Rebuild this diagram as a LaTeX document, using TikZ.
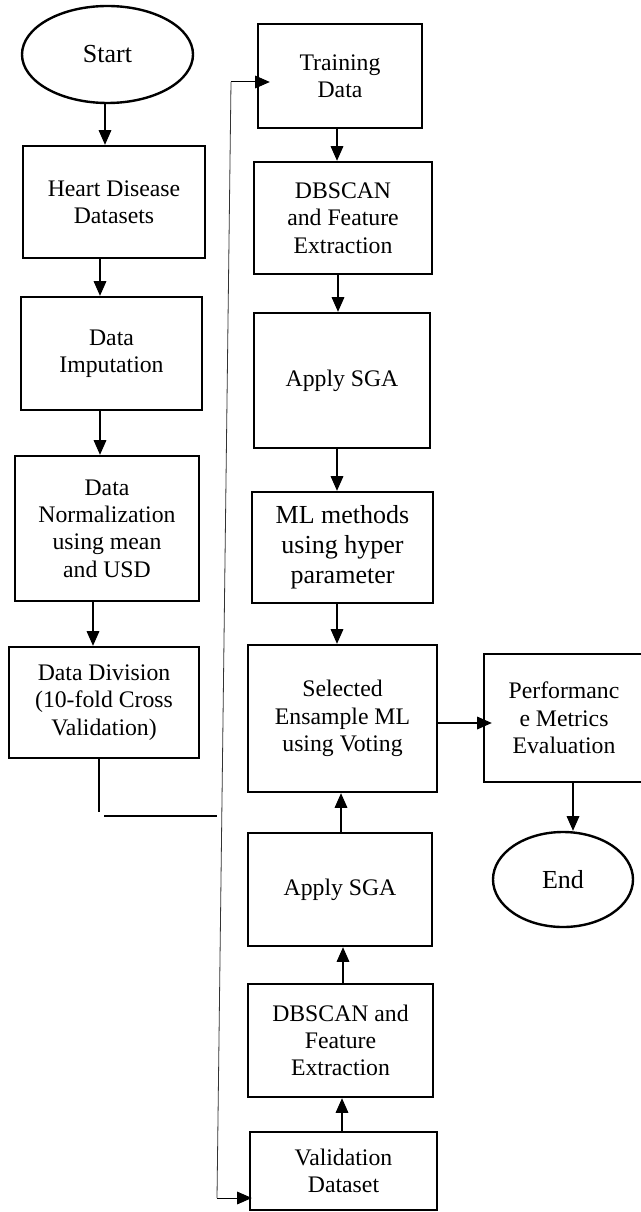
\documentclass[tikz,border=0pt]{standalone}
\usepackage{fontspec}
\setmainfont{Liberation Serif}
\usetikzlibrary{arrows.meta,shapes.geometric,calc}
\begin{document}
\begin{tikzpicture}[x=0.75pt,y=-0.75pt,
  box/.style={draw,line width=1.8pt,align=center,inner sep=0pt,
    font=\fontsize{17.8pt}{20.5pt}\selectfont},
  bigbox/.style={box,font=\fontsize{19.5pt}{22.5pt}\selectfont},
  oval/.style={box,ellipse,font=\fontsize{19.5pt}{22.5pt}\selectfont},
  arr/.style={line width=0.9pt,-{Triangle[length=11pt,width=9.5pt]}},
  feed/.style={line width=0.6pt,draw=black!80},
  thickline/.style={line width=1.6pt}]
\useasboundingbox (0,0) rectangle (640,1212);
% left column
\node[oval,minimum width=128.25pt,minimum height=72.75pt] (start) at (107.5,54.5) {Start};
\node[box,minimum width=136.5pt,minimum height=84pt] (hd) at (114,202) {Heart Disease\\Datasets};
\node[box,minimum width=135.75pt,minimum height=84.75pt] (imp) at (111.5,353.5) {Data\\Imputation};
\node[box,minimum width=138pt,minimum height=108.75pt] (norm) at (107,528.5) {Data\\Normalization\\using mean\\and USD};
\node[box,minimum width=142.5pt,minimum height=83.25pt] (div) at (104,702.5) {Data Division\\(10-fold Cross\\Validation)};
% middle column
\node[box,minimum width=123pt,minimum height=78pt] (train) at (340,76) {Training\\Data};
\node[box,minimum width=133.5pt,minimum height=84pt] (db1) at (343,218) {DBSCAN\\and Feature\\Extraction};
\node[box,minimum width=132pt,minimum height=101.25pt] (sga1) at (342,380.5) {Apply SGA};
\node[bigbox,minimum width=135.75pt,minimum height=83.25pt] (ml) at (342.5,547.5) {ML methods\\using hyper\\parameter};
\node[box,minimum width=141.75pt,minimum height=110.25pt] (sel) at (342.5,718.5) {Selected\\Ensample ML\\using Voting};
\node[box,minimum width=138pt,minimum height=84.75pt] (sga2) at (340,889.5) {Apply SGA};
\node[box,minimum width=138.75pt,minimum height=84.75pt] (db2) at (340.5,1040.5) {DBSCAN and\\Feature\\Extraction};
\node[box,minimum width=140.25pt,minimum height=58.5pt] (valid) at (343.5,1171) {Validation\\Dataset};
% right column
\node[box,minimum width=120pt,minimum height=96pt] (perf) at (564,718) {Performanc\\e Metrics\\Evaluation};
\node[oval,minimum width=105pt,minimum height=71.25pt] (end) at (563,879.5) {End};
% helper coordinates
\coordinate (c105) at (105,0);
\coordinate (c100) at (100,0);
\coordinate (c93) at (93,0);
\coordinate (c99) at (99,812);
\coordinate (h1) at (104,816);
\coordinate (h2) at (217,816);
\coordinate (tl) at (231,82);
\coordinate (bl) at (217,1198);
\coordinate (c337) at (337,0);
\coordinate (c338) at (338,0);
\coordinate (c341) at (341,0);
\coordinate (c342) at (342,0);
\coordinate (c343) at (343,0);
\coordinate (c573) at (573,0);
\coordinate (c723) at (0,723);
% left connectors
\draw[arr] (start.south -| c105) -- (hd.north -| c105);
\draw[arr] (hd.south -| c100) -- (imp.north -| c100);
\draw[arr] (imp.south -| c100) -- (norm.north -| c100);
\draw[arr] (norm.south -| c93) -- (div.north -| c93);
\draw[thickline] (div.south -| c99) -- (c99);
\draw[thickline] (h1) -- (h2);
% feed lines
\draw[feed] (bl) -- (tl);
\draw[arr,line width=0.75pt] (tl) -- ($(train.west |- tl)+(13,0)$);
\draw[arr,line width=0.75pt] (bl) -- ($(valid.west |- bl)+(3,0)$);
% middle connectors
\draw[arr] (train.south -| c337) -- (db1.north -| c337);
\draw[arr] (db1.south -| c338) -- (sga1.north -| c338);
\draw[arr] (sga1.south -| c337) -- (ml.north -| c337);
\draw[arr] (ml.south -| c337) -- (sel.north -| c337);
\draw[arr] (sga2.north -| c341) -- (sel.south -| c341);
\draw[arr] (db2.north -| c343) -- (sga2.south -| c343);
\draw[arr] (valid.north -| c342) -- (db2.south -| c342);
% right connectors
\draw[arr] (sel.east |- c723) -- ($(perf.west |- c723)+(9,0)$);
\draw[arr] (perf.south -| c573) -- (c573 |- end.north);
\end{tikzpicture}
\end{document}
